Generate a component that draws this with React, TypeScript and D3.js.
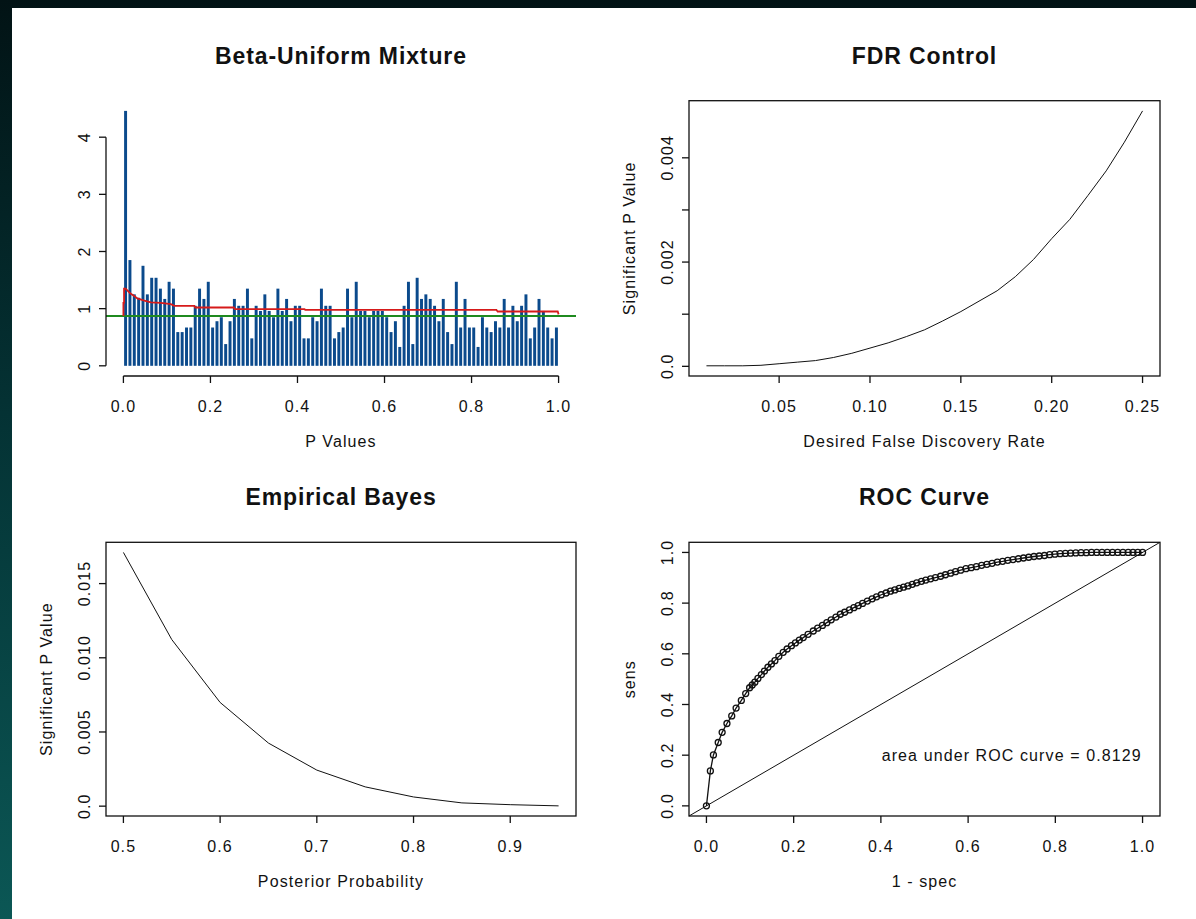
import React from 'react';
import * as d3 from 'd3';

// --- histogram of p values (density per 0.01 bin) ---
const histDensity = [
  4.46, 1.85, 1.25, 1.19, 1.75, 1.25, 1.54, 1.54, 1.35, 1.17,
  1.47, 1.35, 0.59, 0.59, 0.67, 0.67, 1.05, 1.35, 1.17, 1.47,
  0.67, 0.78, 0.85, 0.38, 0.78, 1.17, 1.05, 1.05, 1.35, 0.48,
  1.05, 0.96, 1.25, 0.96, 0.85, 1.35, 0.96, 1.17, 0.78, 1.05,
  1.05, 0.48, 0.48, 0.85, 0.78, 1.35, 1.05, 1.05, 0.48, 0.59,
  0.67, 1.35, 0.85, 1.47, 0.96, 0.96, 0.85, 0.96, 0.96, 0.96,
  0.85, 0.59, 0.78, 0.33, 1.05, 1.47, 0.38, 1.54, 1.17, 1.25,
  1.17, 1.05, 0.78, 1.17, 0.59, 0.38, 1.47, 0.67, 1.17, 0.67,
  0.67, 0.33, 0.85, 0.67, 0.59, 0.78, 0.67, 1.17, 0.67, 1.05,
  0.78, 1.05, 1.25, 0.48, 0.67, 1.17, 0.96, 0.67, 0.48, 0.67,
];
const histTicks = [0, 0.2, 0.4, 0.6, 0.8, 1.0];
const histYTicks = [0, 1, 2, 3, 4];

// fitted beta-uniform density (red) and the uniform level (green)
const fitX = [0, 0, 0.0015, 0.0015, 0.005, 0.009, 0.017, 0.025, 0.032, 0.048, 0.063, 0.086, 0.109, 0.117, 0.163, 0.165, 0.254, 0.256, 0.416, 0.418, 0.857, 0.86, 0.998, 1.0];
const fitY = [0.87, 1.1, 1.1, 1.35, 1.35, 1.32, 1.26, 1.22, 1.18, 1.14, 1.11, 1.1, 1.08, 1.05, 1.05, 1.02, 1.02, 0.99, 0.99, 0.98, 0.98, 0.95, 0.95, 0.9];
const uniformLevel = 0.87;

// --- FDR control ---
const fdrRate = [0.01, 0.02, 0.03, 0.04, 0.05, 0.06, 0.07, 0.08, 0.09, 0.1, 0.11, 0.12, 0.13, 0.14, 0.15, 0.16, 0.17, 0.18, 0.19, 0.2, 0.21, 0.22, 0.23, 0.24, 0.25];
const fdrP = [0.00001, 0.00001, 0.00001, 0.00002, 0.00005, 0.00008, 0.00011, 0.00017, 0.00025, 0.00035, 0.00045, 0.00057, 0.0007, 0.00087, 0.00105, 0.00125, 0.00145, 0.00172, 0.00205, 0.00245, 0.00282, 0.00328, 0.00375, 0.0043, 0.0049];
const fdrXTicks = [0.05, 0.1, 0.15, 0.2, 0.25];
const fdrXLabels = ['0.05', '0.10', '0.15', '0.20', '0.25'];
const fdrYTicks = [0, 0.001, 0.002, 0.003, 0.004];
const fdrYLabels = ['0.0', '', '0.002', '', '0.004'];

// --- empirical Bayes ---
const postProb = [0.5, 0.55, 0.6, 0.65, 0.7, 0.75, 0.8, 0.85, 0.9, 0.95];
const ebP = [0.0171, 0.01123, 0.00699, 0.00425, 0.00243, 0.0013, 0.00062, 0.00022, 0.0001, 0.00002];
const ebXTicks = [0.5, 0.6, 0.7, 0.8, 0.9];
const ebYTicks = [0, 0.005, 0.01, 0.015];
const ebYLabels = ['0.0', '0.005', '0.010', '0.015'];

// --- ROC curve ---
const rocFpr = [
  0, 0.009, 0.016, 0.027, 0.036, 0.047, 0.058, 0.068, 0.08, 0.09, 0.099, 0.105, 0.111, 0.118, 0.126, 0.133,
  0.141, 0.149, 0.157, 0.166, 0.176, 0.185, 0.195, 0.204, 0.213, 0.222, 0.233, 0.245, 0.255, 0.266, 0.276,
  0.286, 0.297, 0.307, 0.317, 0.328, 0.338, 0.348, 0.358, 0.369, 0.38, 0.39, 0.401, 0.412, 0.422, 0.432,
  0.442, 0.452, 0.462, 0.472, 0.482, 0.493, 0.503, 0.514, 0.525, 0.537, 0.548, 0.56, 0.571, 0.583, 0.595,
  0.607, 0.619, 0.631, 0.643, 0.655, 0.667, 0.679, 0.691, 0.703, 0.715, 0.727, 0.739, 0.751, 0.763, 0.775,
  0.787, 0.799, 0.811, 0.823, 0.835, 0.847, 0.859, 0.871, 0.883, 0.895, 0.907, 0.919, 0.931, 0.943, 0.955,
  0.967, 0.978, 0.989, 1.0,
];
const rocTpr = [
  0, 0.138, 0.201, 0.25, 0.29, 0.325, 0.355, 0.386, 0.416, 0.443, 0.466, 0.477, 0.488, 0.503, 0.518, 0.532,
  0.547, 0.56, 0.573, 0.59, 0.606, 0.619, 0.632, 0.643, 0.654, 0.664, 0.677, 0.69, 0.701, 0.712, 0.723,
  0.734, 0.745, 0.756, 0.764, 0.773, 0.782, 0.79, 0.799, 0.808, 0.817, 0.825, 0.833, 0.84, 0.847, 0.852,
  0.858, 0.863, 0.868, 0.874, 0.88, 0.886, 0.891, 0.896, 0.901, 0.906, 0.912, 0.918, 0.924, 0.93, 0.936,
  0.94, 0.944, 0.949, 0.953, 0.957, 0.962, 0.965, 0.969, 0.972, 0.975, 0.978, 0.981, 0.984, 0.986, 0.988,
  0.991, 0.993, 0.995, 0.996, 0.997, 0.998, 0.999, 0.999, 1.0, 1.0, 1.0, 1.0, 1.0, 1.0, 1.0,
  1.0, 1.0, 1.0, 1.0,
];
const rocTicks = [0, 0.2, 0.4, 0.6, 0.8, 1.0];
const aucLabel = 'area under ROC curve = 0.8129';

const FONT = '"Liberation Sans", Arial, Helvetica, sans-serif';
const TICK = 7;

// plot regions (R's plot areas)
const LEFT = [106, 576];
const RIGHT = [689, 1160];
const TOP = [100.7, 376];
const BOTTOM = [542.3, 816];

const fmt1 = (v) => v.toFixed(1);

// R style axes + labels around a plot region
const Axes = ({ x, y, xTicks, xLabels, yTicks, yLabels, box, xLine, yLine }) => {
  const [x0, x1] = x.range();
  const [yb, yt] = y.range();
  const xa = xLine ? [x(xTicks[0]), x(xTicks[xTicks.length - 1])] : null;
  const ya = yLine ? [y(yTicks[0]), y(yTicks[yTicks.length - 1])] : null;
  return (
    <g stroke="#111" strokeWidth={1.3} fill="none">
      {box && <rect x={x0} y={yt} width={x1 - x0} height={yb - yt} />}
      {xa && <line x1={xa[0]} x2={xa[1]} y1={yb} y2={yb} />}
      {ya && <line x1={x0} x2={x0} y1={ya[0]} y2={ya[1]} />}
      {xTicks.map((t, i) => (
        <g key={'x' + i}>
          <line x1={x(t)} x2={x(t)} y1={yb} y2={yb + TICK} />
          <text x={x(t)} y={yb + 36} stroke="none" fill="#111" textAnchor="middle"
            fontFamily={FONT} fontSize={16} letterSpacing={1.1}>{xLabels[i]}</text>
        </g>
      ))}
      {yTicks.map((t, i) => (
        <g key={'y' + i}>
          <line x1={x0} x2={x0 - TICK} y1={y(t)} y2={y(t)} />
          {yLabels[i] && (
            <text transform={`translate(${x0 - 16},${y(t)}) rotate(-90)`} stroke="none" fill="#111"
              textAnchor="middle" fontFamily={FONT} fontSize={16} letterSpacing={1.1}>{yLabels[i]}</text>
          )}
        </g>
      ))}
    </g>
  );
};

const Titles = ({ x, y, title, xTitle, yTitle }) => {
  const [x0, x1] = x.range();
  const [yb, yt] = y.range();
  const cx = (x0 + x1) / 2;
  const cy = (yb + yt) / 2;
  return (
    <g fill="#111" fontFamily={FONT}>
      <text x={cx} y={yt - 37} textAnchor="middle" fontSize={23} fontWeight="bold" letterSpacing={0.9}>{title}</text>
      {xTitle && (
        <text x={cx} y={yb + 71} textAnchor="middle" fontSize={16} letterSpacing={1.1}>{xTitle}</text>
      )}
      {yTitle && (
        <text transform={`translate(${x0 - 54},${cy}) rotate(-90)`} textAnchor="middle" fontSize={16}
          letterSpacing={1.1}>{yTitle}</text>
      )}
    </g>
  );
};

const HistPanel = () => {
  const x = d3.scaleLinear().domain([-0.04, 1.04]).range(LEFT);
  const ymax = d3.max(histDensity);
  const y = d3.scaleLinear().domain([-0.04 * ymax, 1.04 * ymax]).range([TOP[1], TOP[0]]);
  const bw = 1 / histDensity.length;
  const fitLine = d3.line().x((d) => x(d[0])).y((d) => y(d[1]));
  return (
    <g>
      {histDensity.map((v, i) => {
        const a = x(i * bw);
        const b = x((i + 1) * bw);
        return <rect key={i} x={a + 0.7} width={b - a - 1.4} y={y(v)} height={y(0) - y(v)} fill="#0b4a8c" />;
      })}
      <line x1={LEFT[0]} x2={LEFT[1]} y1={y(uniformLevel)} y2={y(uniformLevel)} stroke="#1f8a1f" strokeWidth={2} />
      <path d={fitLine(fitX.map((v, i) => [v, fitY[i]]))} fill="none" stroke="#d61a1a" strokeWidth={1.8} />
      <Axes x={x} y={y} xTicks={histTicks} xLabels={histTicks.map(fmt1)} yTicks={histYTicks}
        yLabels={histYTicks.map(String)} xLine yLine />
      <Titles x={x} y={y} title="Beta-Uniform Mixture" xTitle="P Values" />
    </g>
  );
};

const FdrPanel = () => {
  const [a, b] = d3.extent(fdrRate);
  const [c, d] = d3.extent(fdrP);
  const x = d3.scaleLinear().domain([a - 0.04 * (b - a), b + 0.04 * (b - a)]).range(RIGHT);
  const y = d3.scaleLinear().domain([c - 0.04 * (d - c), d + 0.04 * (d - c)]).range([TOP[1], TOP[0]]);
  const line = d3.line().x((v) => x(v[0])).y((v) => y(v[1]));
  return (
    <g>
      <path d={line(fdrRate.map((v, i) => [v, fdrP[i]]))} fill="none" stroke="#111" strokeWidth={1} />
      <Axes x={x} y={y} xTicks={fdrXTicks} xLabels={fdrXLabels} yTicks={fdrYTicks} yLabels={fdrYLabels} box />
      <Titles x={x} y={y} title="FDR Control" xTitle="Desired False Discovery Rate" yTitle="Significant P Value" />
    </g>
  );
};

const EbPanel = () => {
  const [a, b] = d3.extent(postProb);
  const [c, d] = d3.extent(ebP);
  const x = d3.scaleLinear().domain([a - 0.04 * (b - a), b + 0.04 * (b - a)]).range(LEFT);
  const y = d3.scaleLinear().domain([c - 0.04 * (d - c), d + 0.04 * (d - c)]).range([BOTTOM[1], BOTTOM[0]]);
  const line = d3.line().x((v) => x(v[0])).y((v) => y(v[1]));
  return (
    <g>
      <path d={line(postProb.map((v, i) => [v, ebP[i]]))} fill="none" stroke="#111" strokeWidth={1} />
      <Axes x={x} y={y} xTicks={ebXTicks} xLabels={ebXTicks.map(fmt1)} yTicks={ebYTicks} yLabels={ebYLabels} box />
      <Titles x={x} y={y} title="Empirical Bayes" xTitle="Posterior Probability" yTitle="Significant P Value" />
    </g>
  );
};

const RocPanel = () => {
  const x = d3.scaleLinear().domain([-0.04, 1.04]).range(RIGHT);
  const y = d3.scaleLinear().domain([-0.04, 1.04]).range([BOTTOM[1], BOTTOM[0]]);
  const pts = rocFpr.map((v, i) => [v, rocTpr[i]]);
  const line = d3.line().x((v) => x(v[0])).y((v) => y(v[1]));
  return (
    <g>
      <line x1={x(-0.04)} y1={y(-0.04)} x2={x(1.04)} y2={y(1.04)} stroke="#111" strokeWidth={1} />
      <path d={line(pts)} fill="none" stroke="#111" strokeWidth={1.3} />
      {pts.map((p, i) => (
        <circle key={i} cx={x(p[0])} cy={y(p[1])} r={3} fill="none" stroke="#111" strokeWidth={1.3} />
      ))}
      <text x={x(0.7)} y={y(0.2)} dy="0.35em" textAnchor="middle" fontFamily={FONT} fontSize={16}
        letterSpacing={1.1} fill="#111">{aucLabel}</text>
      <Axes x={x} y={y} xTicks={rocTicks} xLabels={rocTicks.map(fmt1)} yTicks={rocTicks}
        yLabels={rocTicks.map(fmt1)} box />
      <Titles x={x} y={y} title="ROC Curve" xTitle="1 - spec" yTitle="sens" />
    </g>
  );
};

export default function App() {
  return (
    <svg width={1196} height={919} style={{ position: 'absolute', left: 0, top: 0 }}>
      <defs>
        <linearGradient id="bg" x1="0" y1="0" x2="0" y2="1">
          <stop offset="0%" stopColor="#021315" />
          <stop offset="45%" stopColor="#043234" />
          <stop offset="100%" stopColor="#0b5755" />
        </linearGradient>
      </defs>
      <rect width={1196} height={919} fill="url(#bg)" />
      <rect x={12} y={8} width={1184} height={911} fill="#fff" />
      <HistPanel />
      <FdrPanel />
      <EbPanel />
      <RocPanel />
    </svg>
  );
}
